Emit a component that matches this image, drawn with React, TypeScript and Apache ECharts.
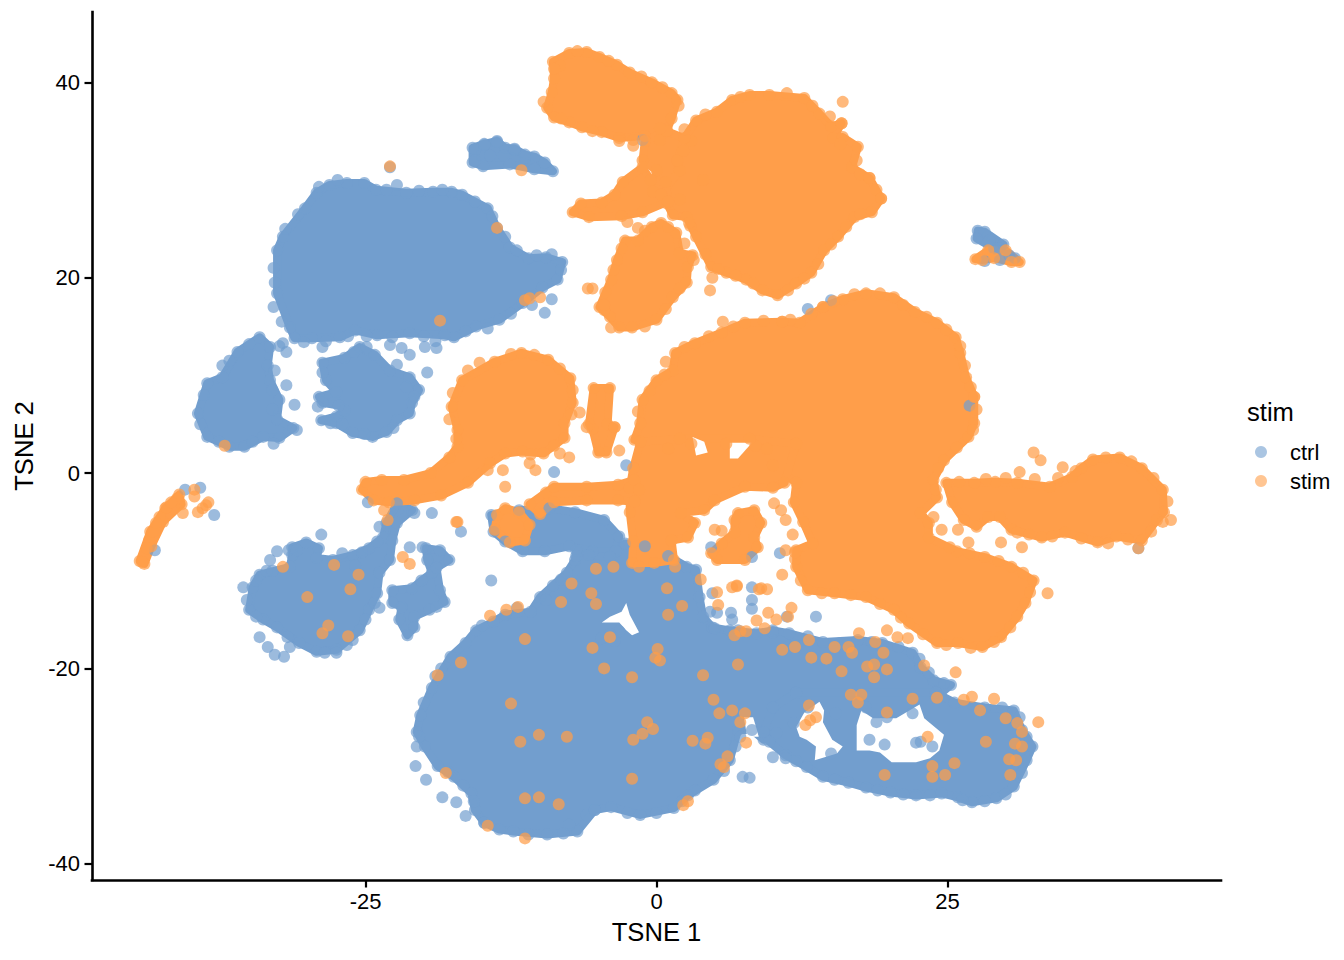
import React, { useEffect, useRef } from "react";
import * as echarts from "echarts";

type P = [number, number];

const xTicks = [-25, 0, 25];
const yTicks = [-40, -20, 0, 20, 40];

// Outlines of the saturated, fully overlapped parts of each cluster
const ctrlRegions: P[][] = [
  [[-32.6, 22.8], [-32.1, 24.2], [-30.2, 27.1], [-29.2, 28.7], [-28.1, 29.5], [-26.6, 29.7], [-25.1, 29.7], [-24.1, 29], [-21.5, 28.7], [-19.2, 28.8], [-17.6, 28.8], [-16.7, 28.5], [-14.5, 27.1], [-13.7, 25.1], [-12.6, 23.1], [-11, 22], [-9.5, 22.1], [-8.1, 21.6], [-8.5, 19.8], [-9.8, 19], [-11.5, 17.4], [-13.5, 15.7], [-15.5, 15], [-17.4, 13.9], [-18.2, 14.1], [-21.2, 14.3], [-24, 14.1], [-25.9, 14.6], [-27.2, 13.9], [-29.6, 13.8], [-31.1, 13.8], [-31.5, 14.9], [-32.6, 18.4]],
  [[-34.1, 13.9], [-33.2, 12.9], [-33.4, 11], [-33.2, 9.5], [-32.4, 7.5], [-32.6, 5.5], [-31.2, 4.6], [-32.4, 3.6], [-33.8, 3.7], [-35.4, 2.7], [-36.7, 2.7], [-38.6, 3.7], [-39.4, 6.1], [-38.6, 9.2], [-37.3, 9.8], [-36, 12.4]],
  [[-28.7, 11.3], [-26.8, 11.8], [-25.5, 12.9], [-24.2, 12.1], [-22.9, 10.5], [-21.2, 9.8], [-20.4, 8.5], [-21, 7.2], [-21.2, 6.1], [-22.3, 5.4], [-23.2, 4.2], [-24.4, 3.7], [-26.1, 4.1], [-27.5, 5.1], [-28.8, 5.4], [-27.5, 5.8], [-26.8, 6.4], [-27.3, 6.9], [-28.7, 7.2], [-29, 7.8], [-27.5, 8.3], [-28.4, 9.5]],
  [[-31.3, -7.6], [-30.1, -7.1], [-29, -7.7], [-29.2, -8.7], [-27.8, -8.9], [-26.1, -8.4], [-24.7, -7.7], [-23.5, -6.6], [-23.2, -5.1], [-22.3, -3.1], [-21, -3.8], [-22.3, -5.1], [-22.7, -6.9], [-22.9, -8.9], [-23.8, -10.2], [-24, -12.3], [-24.7, -14], [-25.5, -16.1], [-27.5, -18.1], [-29.2, -18.3], [-30.7, -17.4], [-32.6, -15.8], [-33.8, -15], [-35, -14], [-34.7, -11.7], [-34.1, -10.4], [-31.5, -9.6], [-31.3, -8.4]],
  [[-22.7, -12], [-21, -11.8], [-20.2, -11], [-19.3, -10.2], [-19.7, -8.9], [-19.8, -7.7], [-18.6, -7.9], [-17.8, -8.9], [-18.9, -9.7], [-18.6, -12], [-18.2, -13.2], [-19.5, -14], [-20.8, -14.7], [-20.8, -15.8], [-21.4, -16.6], [-22.1, -15], [-21.9, -13.7], [-22.7, -13.3]],
  [[-14.2, -4.3], [-11.8, -3.8], [-9.2, -3.6], [-7, -4], [-4.5, -4.8], [-3.2, -6.5], [-3.5, -8], [-5.5, -8], [-7.5, -7.5], [-9.6, -8], [-11.5, -8], [-13, -7], [-14, -6]],
  [[-20.6, -26.5], [-20.3, -24.8], [-19.3, -22], [-17.7, -18.8], [-16.4, -17.4], [-15.5, -16.1], [-14, -15.2], [-13, -14.5], [-10.8, -14.2], [-10, -12.7], [-8.9, -11.5], [-7.7, -10.2], [-7, -8.9], [-6.9, -7.9], [-5.8, -8.4], [-4, -8.6], [-2.7, -7.2], [-1, -7.5], [1, -8.5], [2.6, -9.6], [3.4, -9.9], [3.7, -12.7], [4, -14.7], [4.8, -15.8], [6.3, -16.1], [8.6, -16.4], [10, -16.1], [11.4, -16.4], [14.3, -17.3], [17.3, -17.1], [19.4, -17.4], [22, -18.4], [22.7, -19.9], [23.8, -21.2], [25.3, -21.7], [24, -23], [22, -24.6], [19.8, -25], [18, -24], [15.4, -24.6], [13, -24], [11.8, -25.6], [10.3, -26.6], [9.2, -27.3], [8.2, -26.3], [7, -26.3], [6.3, -29.4], [4.9, -31.4], [2.7, -33], [1.5, -34.3], [-1.4, -35], [-3.9, -34.2], [-5.3, -34.5], [-6.8, -36.7], [-9.4, -37], [-12.3, -36.7], [-13.5, -36.5], [-14.8, -35.8], [-15.6, -34.5], [-15.9, -32.8], [-17.4, -31.1], [-18.8, -30], [-19.9, -28]],
  [[12, -22.5], [24, -22.5], [25.6, -23.5], [28.2, -24], [30.7, -24.3], [31.4, -26.3], [32.3, -28], [31.8, -29.4], [30.7, -32.1], [29.2, -33.3], [27.1, -33.7], [25.9, -33.2], [24.5, -32.8], [22.3, -33], [20.1, -32.7], [18, -32.2], [16.5, -31.7], [14.3, -31.1], [12.9, -30.1], [11.1, -28.9], [9.7, -27.5], [9.2, -26.5], [10, -24]],
  [[-15.8, 33.3], [-14.8, 33.7], [-13.7, 34], [-13, 33.3], [-12.2, 33.2], [-11.3, 32.6], [-10.5, 32.4], [-9.6, 31.8], [-8.9, 30.9], [-10.5, 31.1], [-12.6, 31.6], [-14.9, 31.4], [-15.8, 31.8]],
  [[27.6, 24.8], [28.2, 24.7], [29.8, 23.4], [29, 23], [27.5, 24]],
];
// Uncovered pockets inside the blue clusters
const ctrlGaps: P[][] = [
  [[-4.7, -15.3], [-4, -14.7], [-3, -14.2], [-2.6, -13.3], [-2.3, -14.5], [-1.5, -16.3], [-2.1, -16.6], [-2.6, -16.1], [-3.2, -15.3], [-4, -15.3]],
  [[14, -23.4], [14.4, -24.3], [14.3, -25.5], [15.1, -27.3], [16, -28], [15.5, -28.7], [13.6, -29.4], [13.7, -28], [12.9, -27.3], [12.3, -27], [12, -26], [12.7, -24.5]],
  [[17.6, -24.3], [18.6, -25.1], [20.6, -25.1], [22.6, -23.7], [23, -25.1], [24.7, -26.8], [24.3, -28.4], [23.5, -29.2], [22.3, -29.6], [20.2, -29.6], [19.2, -28.6], [18.3, -28.4], [17.2, -28.4], [17.2, -25.8]],
  [[7.5, -25], [8.3, -25], [8.8, -27], [7.8, -27]],
];

const stimRegions: P[][] = [
  [[-8.9, 42.1], [-7.5, 43], [-6, 43.1], [-4.9, 42.6], [-3.4, 41.8], [-2.3, 41], [-0.4, 40], [1.3, 38.9], [1.8, 38.2], [1.3, 36.3], [0.9, 35.1], [0.3, 34.1], [-1, 34.5], [-3.2, 34.3], [-4.7, 34.9], [-6.4, 35.4], [-7.5, 35.9], [-8.8, 36.4], [-9.4, 37.4], [-9, 39], [-8.8, 40.4]],
  [[-1, 34], [0.9, 35], [3, 34], [4, 30], [2, 28], [-0.3, 28.8], [0, 31], [-1.2, 32]],
  [[2.4, 34.3], [3.4, 36.1], [5.2, 37], [6.5, 38.2], [8, 38.7], [9.7, 38.7], [12.7, 38.4], [14, 36.8], [15, 35.5], [15.9, 35.8], [15.2, 34.3], [16, 34.4], [17.3, 33.4], [16.8, 31.3], [18.3, 30.2], [19.3, 28.1], [18.5, 26.7], [17, 26.2], [15.6, 24.2], [14.4, 22.8], [13.3, 20.5], [12, 19.4], [10.4, 18.2], [9.1, 18.7], [7.7, 19.8], [6, 20.5], [4.7, 21.1], [3.4, 24.2], [2.6, 26.2], [1.4, 26.4], [0.9, 27.6], [0.4, 28.5], [2, 31], [1.8, 32]],
  [[-7.2, 26.7], [-6.5, 27.6], [-4.7, 27.7], [-3.6, 28.5], [-2.9, 29.8], [-1.2, 31.3], [-0.5, 30], [0.8, 29.8], [1, 27.8], [-1.2, 26.7], [-3, 26.3], [-5.8, 26.2]],
  [[-0.4, 25.2], [0.4, 25.6], [1.7, 24.6], [2, 22.5], [3.1, 22.3], [2.7, 21.1], [2.6, 19.5], [1.4, 18], [0, 15.7], [-2.1, 14.9], [-3.2, 14.9], [-4, 16], [-4.9, 17], [-3.9, 19.8], [-3.4, 21.8], [-2.7, 23.8], [-1.6, 23.8]],
  [[-17.6, 6.8], [-16.7, 9.5], [-13.9, 11.4], [-11.6, 12.3], [-9.3, 11.6], [-7.4, 9.7], [-7.2, 7.2], [-7.9, 5.1], [-7.9, 3.6], [-9.7, 2], [-11.5, 2.2], [-13, 2], [-14.3, 1], [-16.2, -1], [-18.5, -2.3], [-20.8, -2.8], [-23, -3], [-24.3, -2.8], [-25.3, -1.7], [-25, -0.9], [-23.6, -0.7], [-21.7, -0.7], [-19.4, 0], [-17.8, 1.6], [-17.1, 2.7], [-17.1, 4.4]],
  [[-1.4, 5.1], [-1.2, 7.5], [0, 9.5], [1.4, 10.5], [1.6, 12.3], [3.3, 13.3], [5.6, 14.4], [7.6, 15.4], [10.8, 15.5], [12.3, 15.4], [14.3, 17], [16, 17.8], [18, 18.4], [20.4, 18], [22.2, 16.5], [24.1, 15.4], [25.7, 13.9], [26.1, 12.3], [26.6, 9.8], [27.3, 7.8], [27.3, 5.1], [26.8, 3.7], [24.7, 1.3], [23.8, -0.7], [24.1, -2.5], [22.7, -4.1], [23.4, -5.1], [23.4, -6.6], [25.8, -8], [28.2, -8.6], [30.5, -9.6], [32.4, -11], [31.7, -13.3], [31, -14.7], [29.6, -16.8], [28, -17.8], [25.9, -17.4], [24.1, -17.4], [21.7, -15.4], [20.4, -14], [18, -12.7], [15.3, -12.3], [13, -12], [12, -9.6], [12, -7.9], [13.4, -7.2], [12.6, -5], [11.8, -3], [12, -1], [10, 0.8], [9.5, 2.5], [8.5, 2.8], [6, 3], [3, 3], [1, 2.5], [-1.9, 3.4]],
  [[-2, 0.5], [-1.4, 3.2], [2, 3.5], [8, 3.5], [12, 3], [11, -1], [10, -1.5], [7.6, -1.4], [5, -2.8], [4.1, -3.8], [2.1, -4.1], [3.3, -5.1], [2.7, -6.6], [1.3, -6.9], [1.5, -8.9], [-0.2, -9.2], [-2.1, -9.2], [-2, -7], [-2.3, -4], [-2.3, -1.5]],
  [[-10.9, -3.2], [-9.5, -2], [-8.8, -1.4], [-6, -1.4], [-3.3, -1.2], [-1.9, -0.7], [-1.5, -1.7], [-1.9, -2.9], [-3.3, -2.8], [-6, -2.8], [-8.8, -3], [-10, -4.2]],
  [[24.9, -1], [27.3, -1], [29.1, -0.9], [31, -1], [33.8, -1.4], [35.7, -0.4], [36.5, 0.5], [37.5, 1.4], [39.8, 1.6], [41.7, 0.5], [43.5, -1.7], [43.6, -4], [43, -4.8], [41.7, -6.9], [39.5, -6.5], [37.9, -7.1], [35.1, -6.1], [33.1, -6.6], [30.5, -5.8], [29.5, -4.5], [28.5, -4.5], [27.5, -5.5], [26.4, -4.8], [25.4, -3]],
  [[7, -4.1], [8.4, -3.8], [9, -5.1], [8.4, -6.6], [8.7, -7.6], [7.6, -8.9], [5.2, -8.9], [4.7, -8.2], [5.6, -7.2], [6.7, -6.1], [6.7, -4.8]],
  [[-13.7, -4.3], [-13, -3.6], [-11.8, -4], [-10.9, -5.3], [-11.3, -6.9], [-12.6, -7.1], [-13.9, -5.8]],
  [[-5.4, 8.7], [-4, 8.7], [-4.2, 5], [-3.6, 4.7], [-4.3, 2.1], [-5, 2.1], [-5.5, 4.5], [-5.8, 5]],
  [[-44.4, -9], [-43.5, -6], [-42.2, -3.6], [-41, -2.2], [-40.8, -3.2], [-42.4, -5], [-43.4, -7.5], [-44, -9.3]],
  [[27.4, 21.9], [28.5, 22.8], [30, 22.8], [31.2, 21.6], [30.5, 21.6], [29, 22], [28, 21.8]],
];
// Uncovered pockets inside the orange clusters
const stimGaps: P[][] = [
  [[3.1, 3.7], [4.1, 3.2], [4.4, 2.1], [3.4, 1.8]],
  [[6.3, 3.1], [8.2, 3.1], [7, 1.5], [6.3, 1.5]],
];

// Cells along the cluster rims and those that stand apart
const ctrlEdge: P[] = [
  [-30.8, 26.5], [-31.9, 25], [-32.9, 21], [-32.8, 19.5], [-32.9, 17], [-32.2, 15.5], [-30.3, 13.4], [-28.4, 13.5], [-26.5, 14], [-24.9, 14], [-22.7, 13.9], [-20, 14], [-19, 13.5], [-16.4, 14.5], [-14.5, 14.8], [-12.5, 16.3], [-10.7, 17.2], [-9, 17.8], [-8.2, 20.8], [-9, 22.4], [-10.3, 22.3], [-12, 22.8], [-13, 24.2], [-14.1, 26.3], [-15.6, 27.8], [-18.4, 29], [-20.4, 28.9], [-23.2, 29], [-27.4, 30], [-29, 29.3],
  [-37.3, 11], [-36.7, 11.5], [-35, 13.2], [-38.9, 8], [-39.2, 5], [-37.6, 3.2], [-34.7, 3.2], [-32.9, 3], [-33, 6.5], [-33, 8.5], [-32.8, 10.5],
  [-20.6, -28], [-20.4, -27], [-20, -23.5], [-19, -20.8], [-18.5, -20], [-15, -15.6], [-12, -13.8], [-9.5, -13], [-8.2, -10.9], [-6.9, -8.5], [-17.9, -30.6], [-16.6, -32], [-15.7, -33.6], [-11, -37], [-8, -36.9], [-7.5, -36], [-6, -35], [-2.5, -34.8], [0, -34.8], [3.3, -32.5], [5.8, -30.5], [6.8, -28], [7.2, -27], [2.2, -33.6],
  [5, -15.9], [7, -16.1], [10, -16.3], [13, -16.7], [15.8, -17.4], [18.5, -17.3], [20.8, -17.8], [22.6, -19], [23.4, -20.4], [24.7, -21.5],
  [29.7, -24], [31.2, -25], [31.8, -27], [31.4, -30.7], [30, -32.9], [28.2, -33.6], [26.3, -33.5], [23.5, -33], [21.2, -32.9], [19, -32.5], [15.3, -31.4], [12, -29.5],
  [-25.1, 4], [-22.6, 4.6], [-20.8, 7.8], [-21.5, 8.8], [-27, 5], [-28, 5.1], [-29.1, 6.8], [-28.7, 10.3], [-26, 12.4], [-24.9, 12.9],
  [-35.2, -13], [-34.4, -11], [-33.5, -10], [-33, -10], [-32.6, -8], [-31.6, -7.9], [-25.3, -8.1], [-24, -7], [-28.5, -18.4], [-26.6, -17.6], [-31.7, -16.8], [-34.4, -14.7], [-24.2, -13.3], [-25, -15],
];
const ctrlPoints: P[] = [
  [-22.3, 29.5], [-22.9, 31.3], [-28.7, 12.9], [-19.9, 12.9], [-18.9, 12.8], [-22.9, 13.1], [-19.7, 10.3], [-21.9, 12.8], [-21.2, 12.1], [-22.3, 11.1], [-9.6, 16.4],
  [-32.4, 13], [-32.1, 13.3], [-31.8, 12.4], [-31.8, 9], [-31.1, 7], [-30.9, 4.4],
  [-28.8, -6.3], [-33.2, -8.9], [-35.5, -11.7], [-30.9, -7.9], [-34.1, -16.8], [-33.4, -17.8], [-32.8, -18.6], [-32, -18.8], [-31.5, -17.8], [-27.5, -18.4], [-26.1, -17.1], [-27, -8.2], [-23.8, -5.5], [-20.8, -4.1], [-19.3, -4.1], [-24.8, -3], [-16.8, -6], [-14.2, -11],
  [-21.2, -7.6], [-20.1, -7.6], [-23.8, -13.8], [-18.9, -13.7], [-25.9, -9.5],
  [-8.8, 0.1], [-2.6, 0.8], [-3.6, -17.2], [-3.2, -16.2], [-4, -16.5], [-4.7, -16.9],
  [-20.7, -30], [-19.8, -31.4], [-18.4, -33.2], [-17.2, -33.7], [-16.4, -35.1], [-14.8, -35.8], [-5.3, -34.5], [7.4, -31.1], [8, -31.2],
  [4.8, -12.3], [4.6, -14.2], [5.2, -14.3], [6.4, -14.3], [6.5, -15], [8.2, -11.7], [8.2, -13], [8.2, -13.9], [10.6, -8.2], [11.2, -14.7], [4.7, -7.6], [8.2, -8.6], [13.7, -14.7],
  [18.9, -25.5], [18.3, -27.3], [19.6, -27.8], [22.3, -27.6], [23.7, -28], [22.7, -27.5], [15, -28.7], [10, -29.1], [11.1, -29.2],
  [-15.6, 33.1], [-15.6, 32], [-14.8, 33.6], [-14.3, 32.5], [-13.7, 33.9], [-13.1, 32.5], [-12.2, 33.1], [-11.3, 32.3],
  [28.6, 23.8], [29.5, 23], [30.3, 22.3], [29.5, 21.8], [30.8, 22], [28.2, 21.7],
  [-40.5, -1.7], [-38, -4.3], [-43.1, -7.9], [-39.2, -1.5], [13, 16.8], [15, 17.7], [-1.2, 34.1], [26.9, 6.9], [41.4, -7.7],
];
const stimEdge: P[] = [
  [4.2, 36.7], [7.2, 38.5], [11.2, 38.9], [13.4, 37.6], [15.8, 33.7], [17.2, 32], [17.5, 30.6], [18.9, 29], [17.5, 26.5], [16.3, 25.2], [15, 23.4], [13.9, 21.4], [12.7, 19.9], [11.3, 18.7], [8.3, 19.4], [6.8, 20.2], [5.3, 20.9], [4.2, 22.4], [2.9, 25.3], [2.3, 33], [2.4, 35.2], [14.9, 36.5],
  [-8.3, 41.7], [-6.8, 43.2], [-4.1, 42.2], [-1.3, 40.6], [0.5, 39.5], [1.9, 37.6], [0.3, 35.3], [-2, 34.1], [-5.5, 35], [-8.2, 36.3], [-9.7, 38], [-8.8, 41.4],
  [2.4, 23.5], [3.2, 21.8], [2, 18.9], [0.8, 16.8], [-1, 15], [-4.5, 16.7], [-4.4, 18.5], [-3.7, 20.8], [-3, 23], [-1, 24.8], [1, 25.2],
  [-16.2, 10.5], [-15.2, 11.3], [-12.5, 12.2], [-10.5, 12.1], [-8.3, 10.7], [-7.2, 8.5], [-7.3, 6], [-17.5, 8.2], [-17.8, 5.5], [-17.2, 3.5], [-8.8, 2.8], [-10.8, 1.9], [-14.5, 0.3],
  [2.4, 12.9], [4.5, 14], [6.6, 15], [9.2, 15.6], [11.5, 15.7], [13.3, 16.3], [15.2, 17.6], [17, 18.3], [19.2, 18.4], [21.2, 17.2], [23.2, 16], [24.9, 14.7], [26.1, 13], [26.5, 11], [27, 8.8], [27.5, 6.5], [27.2, 4.4], [25.8, 2.6], [24.2, 0.5], [24, -1.7], [26.9, -8.2], [29.4, -9], [31.5, -10.2], [32.1, -12.2], [30.4, -15.8], [29, -17.3], [27, -17.9], [24.9, -17.6], [22.9, -16.5], [21, -14.8], [19.2, -13.4], [16.7, -12.5], [14.2, -12.3], [12.4, -11], [11.9, -8.8], [0.8, 11.4], [0.7, 10.1], [-0.6, 8.4], [-1.6, 6.3],
  [38.6, 1.6], [40.8, 1.2], [42.7, -0.5], [43.9, -2.9], [43.5, -5], [42.5, -6], [40.5, -6.8], [38.8, -7.2], [36.5, -6.7], [34, -6.5], [32, -6.3], [26, -0.9], [28.3, -0.6], [30, -0.5], [32.5, -0.6], [34.5, -0.5], [36, 0.2],
];
const stimPoints: P[] = [
  [-3.2, 34], [-2, 33.5], [-2.5, 25.7], [-1.6, 25.1], [2.8, 25.6], [4.8, 20], [4.6, 18.7], [16, 38], [15.9, 35.8], [18.3, 30.2], [19.3, 28.1],
  [-5.5, 18.9], [-5.9, 18.9], [-4.5, 17.2], [-3.9, 14.9],
  [-13.2, 0.3], [-13, -1.4], [-10.9, 1], [-10.4, 0.3], [-8.3, 2], [-7.5, 1.6], [-17.1, -5], [-23.1, -4.8], [-23.4, -3.8],
  [-6, 4.7], [-3.6, 4.7], [-6.6, 6.2], [-3.2, 2.3],
  [11.7, -6.3], [10.7, -3.8], [11.1, -4.8], [10.1, -3.1], [11.1, -7.9], [10.8, -10.4], [11.9, -8.1], [6.9, -11.5], [9, -11.8], [5.2, -12.2], [6.5, -11.7],
  [5, -5.8], [5.6, -5.9], [14.3, 17], [5.7, 15.5], [10.8, 15.5], [27.3, 7.8], [31.4, -7.6], [29.6, -7.1], [31, -6.1], [31.2, 0.1], [32.4, 2.1], [33, 1.3], [34.9, 0.6], [44.2, -4.8], [41.4, -7.7], [33.6, -12.3],
  [25.9, -5.8], [24.5, -5.8], [26.8, -7.1], [25.2, -7.6], [23.8, -4.5],
  [-44.2, -9.1], [-43.6, -6.9], [-42.7, -4.5], [-41.2, -2.6], [-39.7, -1.7], [-38.7, -3.3], [-39.4, -4], [-40.7, -4.1], [-43.8, -7.7], [-43.3, -6], [-43, -5.1], [-42.1, -3.5], [-41.7, -3], [-39, -3.6], [-38.5, -3], [-39.7, -2.4],
  [-22.9, 31.4], [-13.7, 25.1], [-11.6, 31], [-18.6, 15.6], [-11.3, 17.7], [-10.9, 17.9], [-10, 18], [-37.1, 2.8],
  [-32.1, -9.6], [-27.7, -9.4], [-25.6, -10.4], [-26.3, -11.9], [-30, -12.7], [-28.2, -15.6], [-28.7, -16.4], [-26.5, -16.7], [-21.8, -8.6], [-21.2, -9.3], [-17.2, -5], [-14.3, -14.6], [-12.9, -14], [-11.9, -13.7], [-11.3, -17], [-16.8, -19.4], [-18.8, -20.7],
  [-12.5, -23.6], [-11.7, -27.5], [-10.1, -26.8], [-7.7, -27], [-11.3, -33.3], [-10.1, -33.2], [-8.4, -33.9], [-18.1, -30.7], [-14.5, -36.1], [-11.3, -37.4], [-8.2, -13.2], [-7.3, -11.3], [-5.2, -9.8], [-3.7, -9.6], [-1.5, -9.6], [1.6, -9.6], [-5.6, -12.3], [-5.2, -13.4], [0.9, -11.8], [-4, -16.8], [-5.5, -17.9], [2.2, -13.6], [1, -14.5], [0.1, -18], [-0.1, -18.9], [0.3, -19.2], [-4.5, -20], [-2.1, -20.9], [4, -20.7], [7, -19.6], [4.9, -23.2], [5.4, -24.6], [6.5, -24.3], [7.6, -24.6], [7.2, -25.5], [-0.8, -25.5], [-0.3, -26.2], [-1.2, -26.7], [-2, -27.3], [3.1, -27.4], [4.4, -27.1], [4.2, -27.7], [7.7, -27.6], [6.1, -29], [5.5, -29.8], [5.8, -30.1], [-2.1, -31.3], [2.3, -34], [2.7, -33.6],
  [6.9, -11.6], [8.8, -11.9], [9.5, -11.9], [5.3, -13.5], [3.8, -10.9],
  [6.7, -16.6], [7.2, -16.2], [7.7, -16.2], [8.6, -15.1], [9.3, -15.9], [9.6, -14.3], [10.3, -15], [11.6, -13.8], [11.3, -14.7], [10.8, -18.1], [11.9, -17.8], [13.1, -17.1], [13.3, -18.9], [14.6, -19], [15.3, -17.8], [16.5, -17.8], [16.8, -18.4], [15.9, -20.3], [17.4, -16.4], [18.8, -17.3], [19.5, -18.4], [19.8, -16.1], [20.7, -16.8], [21.6, -16.9], [18.1, -19.8], [18.7, -19.6], [18.7, -20.9], [19.8, -20.1], [23, -19.7], [25.7, -20.4], [16.7, -22.7], [17.6, -22.7], [17.3, -23.5], [19.8, -24.5], [22, -23.1], [24.1, -23], [26.4, -23.2], [27.1, -22.9], [29, -23.1], [27.8, -24.3], [30, -25.1], [31, -25.6], [32.8, -25.5], [31.4, -26.5], [28.3, -27.5], [30.8, -27.7], [31.4, -28], [30.9, -29.4], [30.3, -29.3], [30.4, -30.9], [25.6, -29.7], [23.7, -30], [23.7, -31.1], [24.8, -30.9], [19.6, -30.9], [23.3, -27], [13.1, -23.8], [13.7, -25], [13.2, -25.3], [12.8, -25.8],
];

const ctrlColor = "#729ECE";
const stimColor = "#FF9E4A";
const paper = "#FFFFFF";

function regionLayer(name: string, regions: P[][], color: string, lineWidth: number) {
  return {
    type: "custom",
    name,
    silent: true,
    coordinateSystem: "cartesian2d",
    data: regions.map((r) => r[0]),
    renderItem: (params: any, api: any) => ({
      type: "polygon",
      shape: { points: regions[params.dataIndex].map((p) => api.coord(p)) },
      style: { fill: color, stroke: lineWidth ? color : "none", lineWidth, lineJoin: "round" },
    }),
  };
}
function pointLayer(name: string, data: P[], color: string, opacity: number) {
  return { type: "scatter", name, data, symbol: "circle", symbolSize: 12, silent: true, itemStyle: { color, opacity } };
}

export default function App() {
  const ref = useRef<HTMLDivElement>(null);
  useEffect(() => {
    const chart = echarts.init(ref.current!, undefined, { renderer: "svg" });
    const font = "'Liberation Sans', Arial, sans-serif";
    const axisCommon = {
      nameLocation: "middle" as const,
      nameTextStyle: { color: "#000", fontFamily: font, fontSize: 25.6 },
      axisLine: { onZero: false, lineStyle: { color: "#000", width: 2.6, cap: "square" } },
      splitLine: { show: false },
    };
    chart.setOption({
      animation: false,
      backgroundColor: "#fff",
      grid: { left: 92, top: 12, width: 1129, height: 868, containLabel: false },
      xAxis: {
        ...axisCommon,
        type: "value",
        min: -48.5,
        max: 48.5,
        name: "TSNE 1",
        nameGap: 39,
        axisTick: { length: 7.5, lineStyle: { color: "#000", width: 2.2 }, customValues: xTicks },
        axisLabel: { color: "#000", fontFamily: font, fontSize: 22, margin: 10, customValues: xTicks, formatter: (v: number) => String(v) },
      },
      yAxis: {
        ...axisCommon,
        type: "value",
        min: -41.66,
        max: 47.2,
        name: "TSNE 2",
        nameGap: 55,
        axisTick: { length: 7.5, lineStyle: { color: "#000", width: 2.2 }, customValues: yTicks },
        axisLabel: { color: "#000", fontFamily: font, fontSize: 22, margin: 12, customValues: yTicks, formatter: (v: number) => String(v) },
      },
      legend: {
        orient: "vertical",
        left: 1250,
        top: 436,
        itemWidth: 48,
        itemHeight: 12,
        itemGap: 7,
        icon: "circle",
        selectedMode: false,
        textStyle: { color: "#000", fontFamily: font, fontSize: 22, padding: 0 },
        data: [
          { name: "ctrl", itemStyle: { color: ctrlColor, opacity: 0.6 } },
          { name: "stim", itemStyle: { color: stimColor, opacity: 0.6 } },
        ],
      },
      graphic: [
        { type: "text", left: 1247, top: 399, style: { text: "stim", fill: "#000", font: `25.6px ${font}` } },
      ],
      series: [
        regionLayer("ctrl", ctrlRegions, ctrlColor, 8),
        regionLayer("ctrl", ctrlGaps, paper, 0),
        pointLayer("ctrl", ctrlRegions.flat(), ctrlColor, 0.7),
        pointLayer("ctrl", ctrlEdge, ctrlColor, 0.7),
        pointLayer("ctrl", ctrlPoints, ctrlColor, 0.7),
        regionLayer("stim", stimRegions, stimColor, 8),
        regionLayer("stim", stimGaps, paper, 0),
        pointLayer("stim", stimRegions.flat(), stimColor, 0.72),
        pointLayer("stim", stimEdge, stimColor, 0.72),
        pointLayer("stim", stimPoints, stimColor, 0.72),
      ],
    });
    return () => chart.dispose();
  }, []);
  return <div ref={ref} style={{ position: "absolute", left: 0, top: 0, width: 1344, height: 960 }} />;
}
